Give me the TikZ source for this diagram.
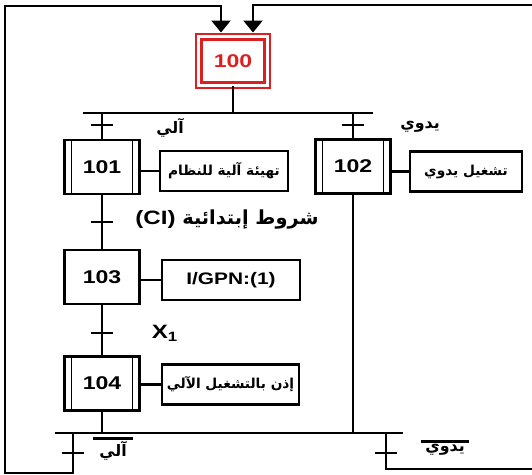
\documentclass[tikz,border=0pt]{standalone}
\usepackage{fontspec}
\setmainfont[FakeStretch=1.25]{Liberation Sans}
\newfontfamily\arabicfont[Script=Arabic]{DejaVu Sans}
\TeXXeTstate=1
\usetikzlibrary{arrows.meta, calc}

\definecolor{stepred}{RGB}{218,32,32}
\newcommand{\arabtxt}[1]{{\arabicfont\beginR #1\endR}}

\begin{document}
\begin{tikzpicture}[
            x=0.02cm, y=-0.02cm,
            >={Triangle[width=0.38cm, length=0.24cm]},
            line width=1.35pt,
            stepbox/.style={draw, minimum width=1.5cm, minimum height=1.08cm, inner sep=0pt, font=\bfseries\fontsize{10.5}{12}\selectfont},
            encstep/.style={stepbox, path picture={
                \draw[line width=0.8pt] ([xshift=0.14cm]path picture bounding box.north west) -- ([xshift=0.14cm]path picture bounding box.south west);
                \draw[line width=0.8pt] ([xshift=-0.14cm]path picture bounding box.north east) -- ([xshift=-0.14cm]path picture bounding box.south east);}},
            initstep/.style={draw=stepred, double=white, double distance=0.06cm, line width=1.4pt, minimum width=1.37cm, minimum height=0.97cm, inner sep=0pt, text=stepred, font=\bfseries\fontsize{10.5}{12}\selectfont},
            actbox/.style={draw, minimum height=0.8cm, inner sep=0pt, font=\bfseries\fontsize{7.8}{9}\selectfont},
            trans/.style={draw, minimum width=0.44cm, minimum height=0pt, inner sep=0pt},
            lbl/.style={inner sep=1pt, font=\bfseries\fontsize{9}{10}\selectfont}
        ]
        \useasboundingbox (0,0) rectangle (532,475);

        % 1. Steps
        \node[initstep] (s100) at (233,61) {100};
        \node[encstep] (s101) at (102,167) {101};
        \node[encstep] (s102) at (353,166.5) {102};
        \node[stepbox] (s103) at (102,277) {103};
        \node[encstep] (s104) at (102,383.5) {104};

        % 2. Actions
        \node[actbox, minimum width=2.56cm] (a101) at (224,171) {\arabtxt{تهيئة آلية للنظام}};
        \node[actbox, minimum width=2.24cm] (a102) at (466,171.5) {\arabtxt{تشغيل يدوي}};
        \node[actbox, minimum width=2.76cm, font=\bfseries\fontsize{9.5}{11}\selectfont] (a103) at (231,280) {I/GPN:(1)};
        \node[actbox, minimum width=2.74cm] (a104) at (230.5,384.5) {\arabtxt{إذن بالتشغيل الآلي}};

        \draw (a101.west) -- (a101.west -| s101.east);
        \draw (a102.west) -- (a102.west -| s102.east);
        \draw (a103.west) -- (a103.west -| s103.east);
        \draw (a104.west) -- (a104.west -| s104.east);

        % 3. Transitions
        \node[trans] (t1) at (102,125) {};
        \node[trans] (t2) at (353,125) {};
        \node[trans] (t3) at (102,222) {};
        \node[trans] (t4) at (102,333) {};
        \node[trans] (t5) at (73,453) {};
        \node[trans] (t6) at (386,453) {};

        \node[lbl] (lauto) at (170,128) {\arabtxt{آلي}};
        \node[lbl] (lmanu) at (420,127) {\arabtxt{يدوي}};
        \node[lbl, font=\bfseries\fontsize{11}{12}\selectfont] (lci) at (227,220) {(CI) \arabtxt{شروط إبتدائية}};
        \node[lbl, font=\bfseries\fontsize{11}{12}\selectfont] (lx) at (165,333) {X\textsubscript{1}};
        \node[lbl, inner xsep=3pt] (lautobar) at (113,451) {\arabtxt{آلي}};
        \node[lbl, inner xsep=2pt] (lmanubar) at (445,450) {\arabtxt{يدوي}};
        \draw (lautobar.north west) -- (lautobar.north east);
        \draw (lmanubar.north west) -- (lmanubar.north east);

        % 4. Divergence / convergence lines
        \coordinate (dtop) at (233,113);
        \coordinate (dtopL) at (83,113);
        \coordinate (dtopR) at (373,113);
        \coordinate (dbotL) at (55,433);
        \coordinate (dbotR) at (403,433);

        \draw (s100) -- (dtop);
        \draw (dtopL) -- (dtopR);
        \draw (t1 |- dtop) -- (t1) -- (s101);
        \draw (t2 |- dtop) -- (t2) -- (s102);
        \draw (s101) -- (t3) -- (s103);
        \draw (s103) -- (t4) -- (s104);
        \draw (s104) -- (s104 |- dbotL);
        \draw (s102) -- (s102 |- dbotL);
        \draw (dbotL) -- (dbotR);

        % 5. Return loops
        \coordinate (inL) at ([xshift=-0.24cm, yshift=0.06cm]s100.north);
        \coordinate (inR) at ([xshift=0.4cm, yshift=0.06cm]s100.north);
        \draw[->] (t5 |- dbotL) -- (t5) -- (73,473) -- (5,473) -- (5,6) -- (inL |- 0,6) -- (inL);
        \draw[->] (t6 |- dbotL) -- (t6) -- (386,469) -- (545,469) -- (545,5) -- (inR |- 0,5) -- (inR);
\end{tikzpicture}
\end{document}
